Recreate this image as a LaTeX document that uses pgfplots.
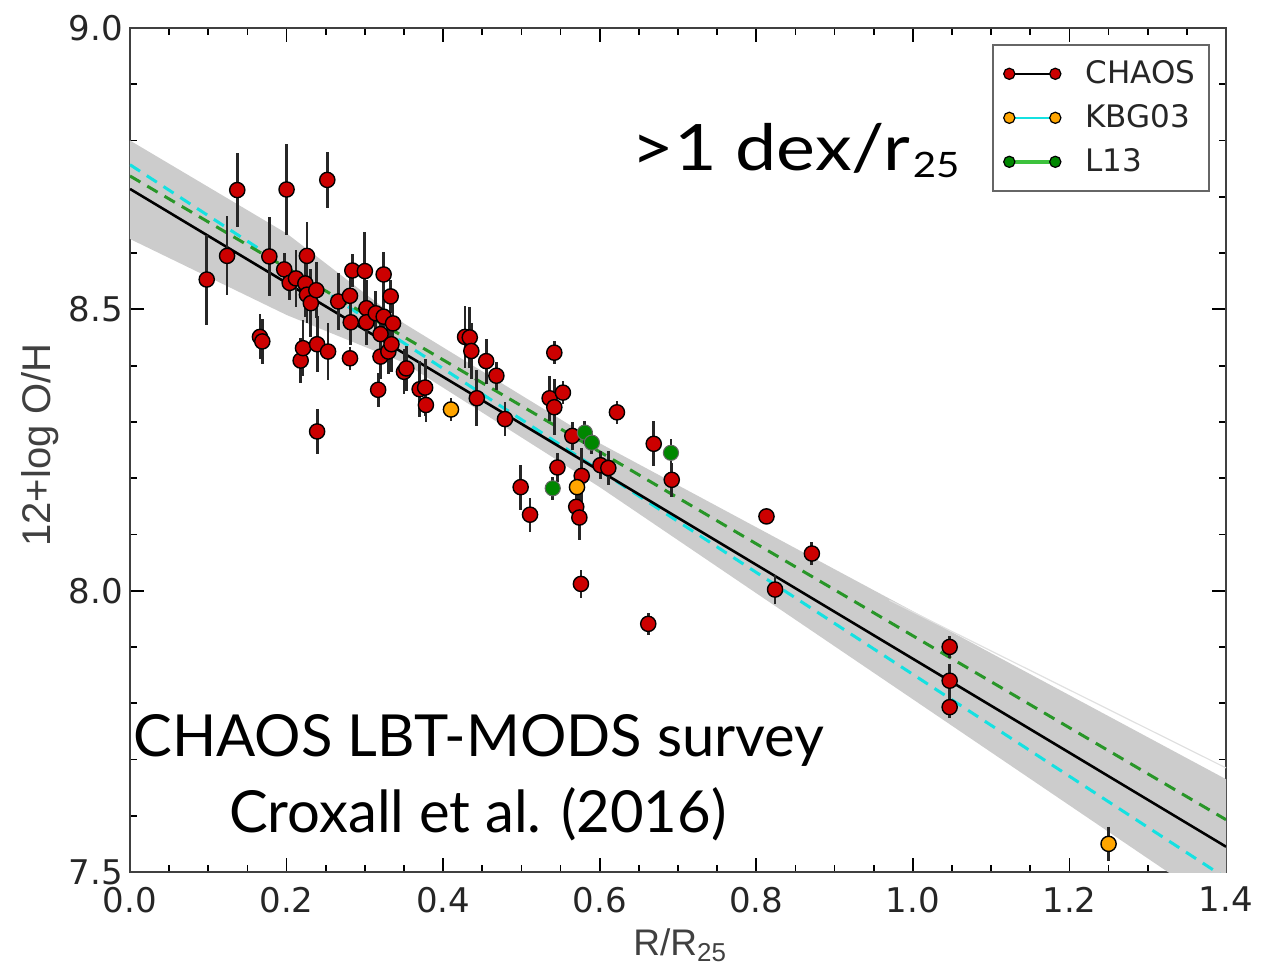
\documentclass[border=0pt]{standalone}
\usepackage{fontspec}
\setmainfont{DejaVu Sans}
\newfontfamily\lato{Lato}
\newfontfamily\libsans{Liberation Sans}
\usepackage{graphicx}
\usepackage{pgfplots}
\pgfplotsset{compat=1.18}
\usepackage{pgfplotstable}
\definecolor{chaosred}{RGB}{204,0,0}
\definecolor{kbgorange}{RGB}{255,165,0}
\definecolor{lgreen}{RGB}{0,135,0}
\definecolor{cyanline}{RGB}{20,225,225}
\definecolor{gline}{RGB}{40,150,40}
\definecolor{bandgray}{RGB}{204,204,204}

\pgfplotstableread{
x y e
0.098 8.553 0.080
0.124 8.595 0.070
0.137 8.712 0.065
0.166 8.451 0.040
0.169 8.443 0.040
0.178 8.594 0.070
0.197 8.571 0.030
0.200 8.713 0.080
0.204 8.547 0.030
0.212 8.555 0.050
0.218 8.409 0.040
0.221 8.431 0.050
0.224 8.546 0.060
0.226 8.595 0.060
0.226 8.526 0.050
0.231 8.511 0.060
0.238 8.534 0.050
0.239 8.438 0.050
0.239 8.283 0.040
0.252 8.730 0.050
0.253 8.425 0.050
0.266 8.514 0.050
0.281 8.524 0.040
0.281 8.413 0.020
0.282 8.477 0.040
0.284 8.569 0.030
0.300 8.568 0.070
0.302 8.502 0.050
0.302 8.477 0.040
0.314 8.493 0.040
0.317 8.357 0.030
0.320 8.456 0.040
0.320 8.416 0.040
0.324 8.562 0.040
0.324 8.487 0.040
0.330 8.425 0.040
0.333 8.523 0.030
0.334 8.438 0.050
0.336 8.475 0.040
0.350 8.389 0.040
0.353 8.395 0.040
0.370 8.358 0.050
0.377 8.361 0.050
0.378 8.330 0.030
0.428 8.451 0.055
0.434 8.450 0.055
0.436 8.426 0.050
0.443 8.342 0.050
0.455 8.408 0.040
0.468 8.382 0.025
0.479 8.305 0.030
0.499 8.184 0.040
0.511 8.135 0.030
0.536 8.342 0.040
0.542 8.423 0.020
0.542 8.326 0.050
0.546 8.219 0.025
0.553 8.352 0.020
0.565 8.275 0.025
0.570 8.149 0.030
0.574 8.130 0.040
0.576 8.012 0.025
0.577 8.204 0.050
0.601 8.223 0.025
0.611 8.218 0.030
0.622 8.317 0.020
0.662 7.941 0.020
0.669 8.261 0.040
0.692 8.197 0.030
0.813 8.132 0.010
0.824 8.002 0.025
0.871 8.066 0.020
1.047 7.900 0.020
1.047 7.840 0.030
1.047 7.793 0.020
}\chaos

\pgfplotstableread{
x y e
0.410 8.322 0.020
0.571 8.184 0.030
1.250 7.550 0.030
}\kbg

\pgfplotstableread{
x y e
0.540 8.182 0.020
0.581 8.281 0.020
0.590 8.263 0.020
0.691 8.245 0.025
}\lthirteen

\begin{document}
\begin{tikzpicture}
\useasboundingbox (-65pt,-47pt) rectangle (577pt,436pt);
\begin{axis}[
  scale only axis, width=548pt, height=422pt,
  xmin=0, xmax=1.4, ymin=7.5, ymax=9.0,
  xtick={0,0.2,0.4,0.6,0.8,1.0,1.2,1.4},
  xticklabels={0.0,0.2,0.4,0.6,0.8,1.0,1.2,1.4},
  ytick={7.5,8.0,8.5,9.0},
  yticklabels={7.5,8.0,8.5,9.0},
  minor x tick num=3, minor y tick num=4,
  tick align=inside,
  major tick length=7pt, minor tick length=3.5pt,
  every tick/.style={black, line width=0.9pt},
  axis line style={draw=black!75, line width=1.2pt},
  ticklabel style={font=\fontsize{17}{20}\selectfont, text=black!85},
  xticklabel style={yshift=-4pt},
  xlabel={R/R\textsubscript{25}},
  ylabel={12+log O/H},
  xlabel style={font=\libsans\fontsize{18.5}{22}\selectfont, text=black!75, at={([yshift=-36.5pt]axis description cs:0.502,0)}, anchor=center},
  ylabel style={font=\libsans\fontsize{20}{24}\selectfont, text=black!75, at={([xshift=-45pt]axis description cs:0,0.506)}, anchor=center},
  legend style={at={(1,1)}, anchor=north east, xshift=-8pt, yshift=-8pt,
    draw=black!60, line width=0.8pt, font=\fontsize{15.5}{18}\selectfont,
    inner xsep=5pt, inner ysep=6pt, row sep=5pt, cells={anchor=west}, text=black!85,
    /tikz/every odd column/.append style={column sep=10pt}},
]
\addlegendimage{legend image code/.code={
  \draw[black, line width=1.2pt] (0pt,0pt) -- (23pt,0pt);
  \filldraw[fill=chaosred, draw=black, line width=0.6pt] (0pt,0pt) circle (2.8pt) (23pt,0pt) circle (2.8pt);}}
\addlegendentry{CHAOS}
\addlegendimage{legend image code/.code={
  \draw[cyanline, line width=0.8pt] (0pt,0pt) -- (23pt,0pt);
  \filldraw[fill=kbgorange, draw=black, line width=0.6pt] (0pt,0pt) circle (2.8pt) (23pt,0pt) circle (2.8pt);}}
\addlegendentry{KBG03}
\addlegendimage{legend image code/.code={
  \draw[green!40!gray!80!green, line width=1.8pt] (0pt,0pt) -- (23pt,0pt);
  \filldraw[fill=lgreen, draw=black, line width=0.6pt] (0pt,0pt) circle (2.8pt) (23pt,0pt) circle (2.8pt);}}
\addlegendentry{L13}

% uncertainty band
\addplot[forget plot, fill=bandgray, draw=none] coordinates {
  (0,8.80) (0.2,8.635) (0.35,8.475) (0.6,8.262) (1.4,7.665)
  (1.4,7.43) (0.6,8.184) (0.35,8.405) (0.2,8.49) (0,8.625)} -- cycle;
\addplot[forget plot, black!12, line width=0.6pt] coordinates {(0.97,7.983) (1.4,7.685)};
% fits
\addplot[forget plot, cyanline, line width=1.5pt, dash pattern=on 6pt off 4pt] coordinates {(0,8.757) (1.4,7.489)};
\addplot[forget plot, gline, line width=1.5pt, dash pattern=on 6pt off 4pt] coordinates {(0,8.737) (1.4,7.593)};
\addplot[forget plot, black, line width=1.3pt] coordinates {(0,8.714) (1.4,7.545)};

% data
\addplot[forget plot, only marks, mark=*, mark size=3.8pt,
  mark options={fill=chaosred, draw=black, line width=0.7pt},
  error bars/.cd, y dir=both, y explicit, error mark=none,
  error bar style={line width=1.4pt, black!85}]
  table[x=x, y=y, y error=e]{\chaos};
\addplot[forget plot, only marks, mark=*, mark size=3.8pt,
  mark options={fill=kbgorange, draw=black, line width=0.7pt},
  error bars/.cd, y dir=both, y explicit, error mark=none,
  error bar style={line width=1.4pt, black!85}]
  table[x=x, y=y, y error=e]{\kbg};
\addplot[forget plot, only marks, mark=*, mark size=3.8pt,
  mark options={fill=lgreen, draw=black!60, line width=0.5pt},
  error bars/.cd, y dir=both, y explicit, error mark=none,
  error bar style={line width=1.4pt, black!85}]
  table[x=x, y=y, y error=e]{\lthirteen};

\node[anchor=base west, inner sep=0pt, font=\lato\fontsize{32}{38}\selectfont] at (axis cs:0.640,8.746)
  {\scalebox{1.15}[1]{>1 dex/r}\kern1.5pt\raisebox{-3.5pt}{\scalebox{1.15}[1]{\fontsize{17.5}{20}\selectfont 25}}};
\node[anchor=base west, inner sep=0pt, font=\lato\fontsize{29}{35}\selectfont] at (axis cs:0.004,7.7045) {CHAOS LBT-MODS survey};
\node[anchor=base, inner sep=0pt, font=\lato\fontsize{29}{35}\selectfont] at (axis cs:0.4445,7.5694) {Croxall et al. (2016)};
\end{axis}
\end{tikzpicture}
\end{document}
